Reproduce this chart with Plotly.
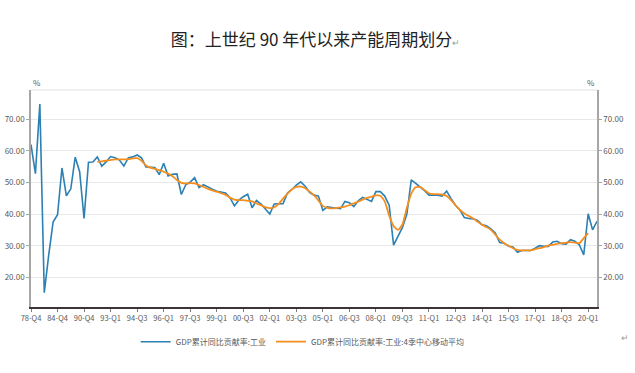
import plotly.graph_objects as go

# ---- categories (annual to 91-Q4, then quarterly) ----
years_annual = [f"{y:02d}-Q4" for y in range(78, 91)]
quarters = ["91-Q4", "92-Q1", "92-Q2", "92-Q3", "92-Q4"]
for yy in list(range(93, 100)) + list(range(0, 21)):
    for q in (1, 2, 3, 4):
        if yy == 20 and q > 3:
            break
        quarters.append(f"{yy:02d}-Q{q}")
categories = years_annual + quarters

tick_labels = ["78-Q4", "84-Q4", "90-Q4", "93-Q1", "94-Q3", "96-Q1", "97-Q3", "99-Q1",
               "00-Q3", "02-Q1", "03-Q3", "05-Q1", "06-Q3", "08-Q1", "09-Q3", "11-Q1",
               "12-Q3", "14-Q1", "15-Q3", "17-Q1", "18-Q3", "20-Q1"]

y_ticks = [20, 30, 40, 50, 60, 70]

industry = [62.0, 52.8, 74.8, 15.1, 27.0, 37.5, 39.8, 54.6, 45.8, 48.0,
            58.0, 53.4, 38.6, 56.4, 56.5, 58.1, 55.2, 56.5, 58.2, 57.8,
            57.1, 55.2, 57.8, 58.1, 58.7, 57.8, 54.9, 54.8, 54.7, 52.5,
            56.1, 52.1, 52.6, 52.7, 46.2, 49.3, 50.1, 51.5, 48.4, 49.3,
            48.7, 47.9, 47.2, 47.0, 46.7, 45.2, 42.6, 44.4, 45.5, 46.3,
            42.0, 44.3, 43.2, 41.6, 40.0, 43.2, 43.2, 43.3, 46.7, 47.8,
            49.2, 50.2, 48.8, 46.9, 46.0, 45.7, 41.2, 42.3, 42.1, 41.8,
            41.7, 44.0, 43.6, 42.4, 44.2, 45.3, 44.7, 44.0, 47.1, 47.1,
            45.7, 42.8, 30.2, 32.8, 35.8, 40.0, 50.8, 49.7, 48.6, 47.4,
            46.0, 46.0, 46.0, 45.7, 47.3, 44.9, 42.8, 41.3, 38.9, 38.6,
            38.5, 38.0, 36.6, 36.3, 35.3, 34.0, 31.0, 30.8, 29.8, 29.6,
            27.9, 28.5, 28.5, 28.5, 29.2, 30.0, 29.8, 29.8, 31.2, 31.4,
            30.6, 30.5, 31.9, 31.4, 30.3, 27.1, 40.1, 35.0, 37.7]

ma4 = [None] * 15 + [
    56.5, 56.7, 56.9, 57.1, 57.3, 57.3, 57.3, 57.4, 57.6, 57.7,
    56.9, 55.4, 54.7, 54.3, 53.9, 53.4, 52.8, 52.0, 50.8, 49.9,
    49.7, 49.8, 49.7, 49.2, 48.6, 48.0, 47.5, 47.1, 46.6, 46.1,
    45.2, 44.6, 44.4, 44.4, 44.2, 44.0, 43.4, 42.8, 42.2, 41.9,
    42.1, 43.2, 44.9, 46.5, 47.8, 48.6, 48.7, 48.2, 47.1, 46.0,
    44.3, 42.6, 42.0, 41.8, 41.9, 42.1, 42.4, 42.8, 43.4, 43.9,
    44.6, 45.1, 45.5, 45.9, 45.8, 44.0, 39.5, 36.2, 35.0, 36.7,
    42.0, 46.5, 48.5, 48.6, 47.6, 46.6, 46.3, 46.3, 46.2, 45.7,
    44.4, 42.8, 41.3, 40.2, 39.4, 38.6, 37.6, 36.6, 35.9, 35.0,
    33.5, 31.9, 30.8, 30.0, 29.2, 28.7, 28.5, 28.5, 28.5, 28.9,
    29.2, 29.6, 30.0, 30.3, 30.6, 30.8, 31.0, 31.1, 31.0, 30.8,
    32.4, 34.0] + [None] * 2

name1 = "GDP累计同比贡献率:工业"
name2 = "GDP累计同比贡献率:工业:4季中心移动平均"

BLUE = "#2c80b4"
ORANGE = "#f68e1e"
GRAY_TXT = "#595959"
FONT = "Noto Sans CJK SC, Noto Sans, sans-serif"
YR = [10.6, 79.27]

fig = go.Figure()
fig.add_trace(go.Scatter(x=categories, y=industry, mode="lines", name=name1,
                         line=dict(color=BLUE, width=1.6)))
fig.add_trace(go.Scatter(x=categories, y=ma4, mode="lines", name=name2,
                         line=dict(color=ORANGE, width=1.8, shape="spline", smoothing=0.5)))
fig.add_trace(go.Scatter(x=categories, y=industry, mode="lines", yaxis="y2",
                         line=dict(color=BLUE, width=0), opacity=0,
                         showlegend=False, hoverinfo="skip"))

axis_common = dict(range=YR, tickvals=y_ticks, tickformat=".2f", automargin=False,
                   tickfont=dict(size=8, color=GRAY_TXT, family=FONT),
                   showline=True, linecolor="#a6a6a6", linewidth=1.5,
                   ticks="outside", ticklen=3, tickcolor="#a6a6a6", zeroline=False)

fig.update_layout(
    width=635, height=373,
    margin=dict(l=31, r=38, t=90, b=66, autoexpand=False),
    paper_bgcolor="white", plot_bgcolor="white",
    font=dict(family=FONT, color=GRAY_TXT),
    title=dict(text="图：上世纪 90 年代以来产能周期划分<span style='font-size:9px;color:#999'>↵</span>",
               x=0.497, xanchor="center", y=0.893, yanchor="middle",
               font=dict(size=17, color="#222222", family=FONT)),
    xaxis=dict(type="category", categoryorder="array", categoryarray=categories,
               range=[0, len(categories) - 1], tickmode="array", tickvals=tick_labels,
               ticktext=tick_labels, tickangle=0, automargin=False,
               tickfont=dict(size=7.5, color=GRAY_TXT, family=FONT),
               showline=True, linecolor="#3d3535", linewidth=2,
               ticks="outside", ticklen=3, tickcolor="#7f7f7f",
               showgrid=False, zeroline=False),
    yaxis=dict(**axis_common, showgrid=True, gridcolor="#e8e8e8", gridwidth=1.2, side="left"),
    yaxis2=dict(**axis_common, overlaying="y", side="right", showgrid=False),
    legend=dict(orientation="h", x=0.48, xanchor="center", y=-0.16, yanchor="middle",
                font=dict(size=8, color=GRAY_TXT, family=FONT),
                itemwidth=30, bgcolor="rgba(0,0,0,0)"),
    showlegend=True,
    annotations=[
        dict(text="%", xref="paper", yref="paper", x=0.0, y=1.07, showarrow=False,
             font=dict(size=8, color=GRAY_TXT)),
        dict(text="%", xref="paper", yref="paper", x=1.0, y=1.07, showarrow=False,
             font=dict(size=8, color=GRAY_TXT)),
        dict(text="↵", xref="paper", yref="paper", x=1.06, y=-0.18, showarrow=False,
             font=dict(size=9, color="#999999")),
    ],
    shapes=[dict(type="line", xref="paper", yref="paper", x0=0, x1=1, y0=1, y1=1,
                 line=dict(color="#e0e0e0", width=1.2))],
)

fig.write_html("out.html", config={"displayModeBar": False},
               post_script="document.body.style.margin='0';document.body.style.overflow='hidden';")
